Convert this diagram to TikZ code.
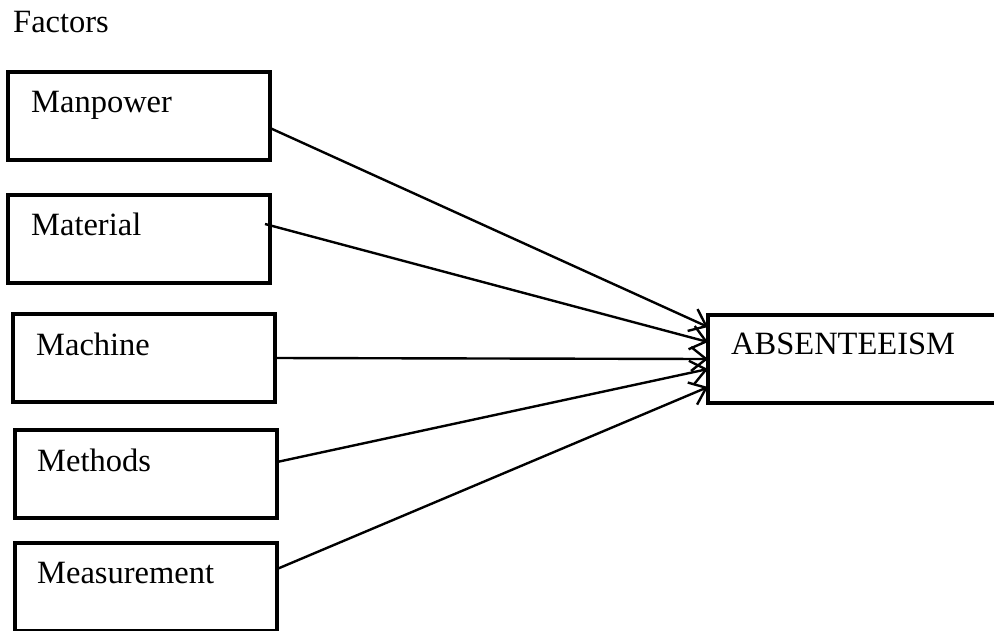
\documentclass[tikz,border=0pt]{standalone}
\usepackage{fontspec}
\setmainfont{Liberation Serif}
\usetikzlibrary{arrows.meta}
\begin{document}
\begin{tikzpicture}[x=1pt,y=-1pt,
  box/.style={draw=black, line width=3.6pt, rectangle, inner sep=0pt, outer sep=0pt, anchor=north west},
  fbox/.style={box, minimum width=262pt, minimum height=88pt},
  lbl/.style={inner sep=0pt, anchor=base west, font=\fontsize{32.5}{38}\selectfont},
  arr/.style={line width=2.4pt, -{Straight Barb[length=15pt,width=24pt,line width=2.4pt]}}]
\useasboundingbox (0,0) rectangle (994,630);
\clip (0,0) rectangle (994,630);
\node[lbl] (factors) at (13,32) {Factors};
\node[fbox] (b1) at (8,72) {};
\node[fbox] (b2) at (8,195) {};
\node[fbox] (b3) at (13,314) {};
\node[fbox] (b4) at (15,430) {};
\node[fbox] (b5) at (15,543) {};
\node[box, minimum width=300pt, minimum height=88pt] (abs) at (708,315) {};
\node[lbl] (t1) at (31,112) {Manpower};
\node[lbl] (t2) at (31,235) {Material};
\node[lbl] (t3) at (36,355) {Machine};
\node[lbl] (t4) at (37,471) {Methods};
\node[lbl] (t5) at (37,583) {Measurement};
\node[lbl] (ta) at (731,354) {ABSENTEEISM};
\draw[arr] ([yshift=-12pt]b1.east) -- ([yshift=32pt]abs.west);
\draw[arr] ([xshift=-5pt,yshift=15pt]b2.east) -- ([yshift=17pt]abs.west);
\draw[arr] (b3.east) -- (abs.west);
\draw[arr] ([yshift=12pt]b4.east) -- ([yshift=-10pt]abs.west);
\draw[arr] ([yshift=18pt]b5.east) -- ([yshift=-28pt]abs.west);
\end{tikzpicture}
\end{document}
